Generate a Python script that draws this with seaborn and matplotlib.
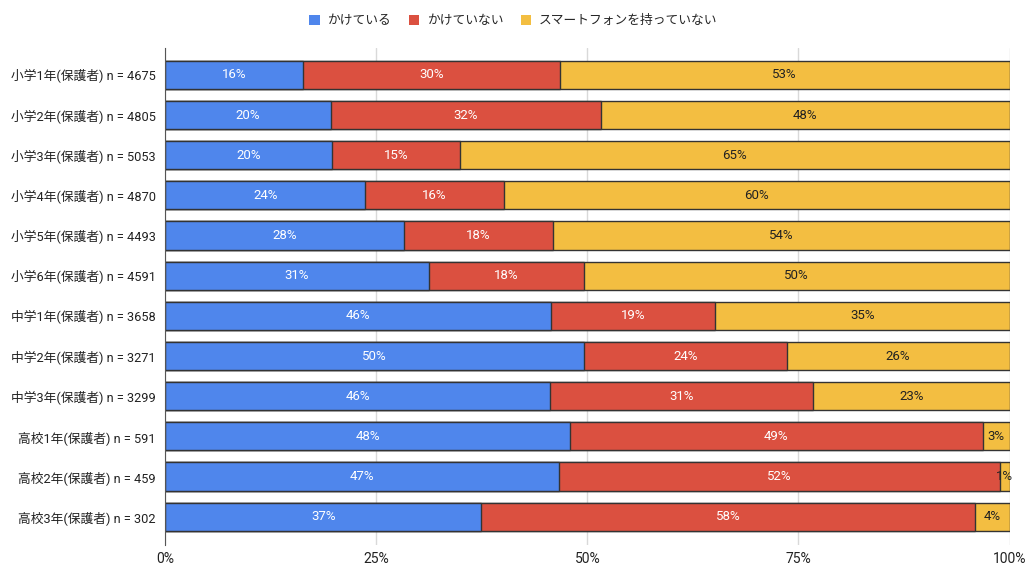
import pandas as pd
import seaborn as sns
import matplotlib.pyplot as plt
from matplotlib.patches import Patch

# Rows (top to bottom) and share of each answer, in percent
categories = [
    '小学1年(保護者) n = 4675',
    '小学2年(保護者) n = 4805',
    '小学3年(保護者) n = 5053',
    '小学4年(保護者) n = 4870',
    '小学5年(保護者) n = 4493',
    '小学6年(保護者) n = 4591',
    '中学1年(保護者) n = 3658',
    '中学2年(保護者) n = 3271',
    '中学3年(保護者) n = 3299',
    '高校1年(保護者) n = 591',
    '高校2年(保護者) n = 459',
    '高校3年(保護者) n = 302',
]
kaketeiru = [16.3, 19.6, 19.8, 23.7, 28.3, 31.2, 45.7, 49.6, 45.6, 47.9, 46.6, 37.4]
kaketeinai = [30.4, 32.0, 15.1, 16.4, 17.6, 18.4, 19.4, 24.0, 31.1, 48.9, 52.3, 58.5]
motteinai = [53.3, 48.4, 65.1, 59.9, 54.1, 50.4, 34.9, 26.4, 23.3, 3.2, 1.1, 4.1]

series_names = ['かけている', 'かけていない', 'スマートフォンを持っていない']
colors = ['#4f86ec', '#db5040', '#f3be41']
text_colors = ['white', 'white', '#222222']

df = pd.DataFrame({
    'cat': categories,
    'a': kaketeiru,
    'b': kaketeinai,
    'c': motteinai,
})
df['cum_a'] = df['a']
df['cum_b'] = df['a'] + df['b']
df['cum_c'] = df['a'] + df['b'] + df['c']

sns.set_style('white')
plt.rcParams['font.family'] = ['Roboto', 'Noto Sans CJK JP', 'DejaVu Sans']

fig, ax = plt.subplots(figsize=(10.27, 5.64), dpi=100)
fig.subplots_adjust(left=0.161, right=0.983, top=0.915, bottom=0.034)

# stacked bars drawn back to front
for col, color in zip(['cum_c', 'cum_b', 'cum_a'], colors[::-1]):
    sns.barplot(data=df, x=col, y='cat', color=color, orient='h', width=0.7,
                edgecolor='#333333', linewidth=1, saturation=1, ax=ax, zorder=3)

# labels in the middle of each segment
for i, row in df.iterrows():
    starts = [0, row['cum_a'], row['cum_b']]
    vals = [row['a'], row['b'], row['c']]
    for s, v, tc in zip(starts, vals, text_colors):
        ax.text(s + v / 2, i, f'{round(v)}%', ha='center', va='center',
                fontsize=9.5, color=tc, zorder=5)

ax.set_xlim(0, 100)
ax.set_ylim(11.7, -0.67)
ax.set_xticks([0, 25, 50, 75, 100])
ax.set_xticklabels(['0%', '25%', '50%', '75%', '100%'])
ax.set_xlabel('')
ax.set_ylabel('')
ax.xaxis.grid(True, color='#d9d9d9', linewidth=1, zorder=0)
for s in ['top', 'right', 'bottom']:
    ax.spines[s].set_visible(False)
ax.spines['left'].set_color('#555555')
ax.spines['left'].set_zorder(4)
ax.tick_params(axis='y', length=0, labelsize=9.2, colors='#222222', pad=7)
ax.tick_params(axis='x', length=0, labelsize=10, colors='#222222', pad=5)

handles = [Patch(facecolor=c, edgecolor='none') for c in colors]
fig.legend(handles, series_names, loc='upper center', ncol=3, frameon=False,
           fontsize=9.2, handlelength=0.8, handleheight=0.8, handletextpad=0.6,
           columnspacing=1.4, bbox_to_anchor=(0.500, 0.995))

plt.savefig('out.png', dpi=100)
